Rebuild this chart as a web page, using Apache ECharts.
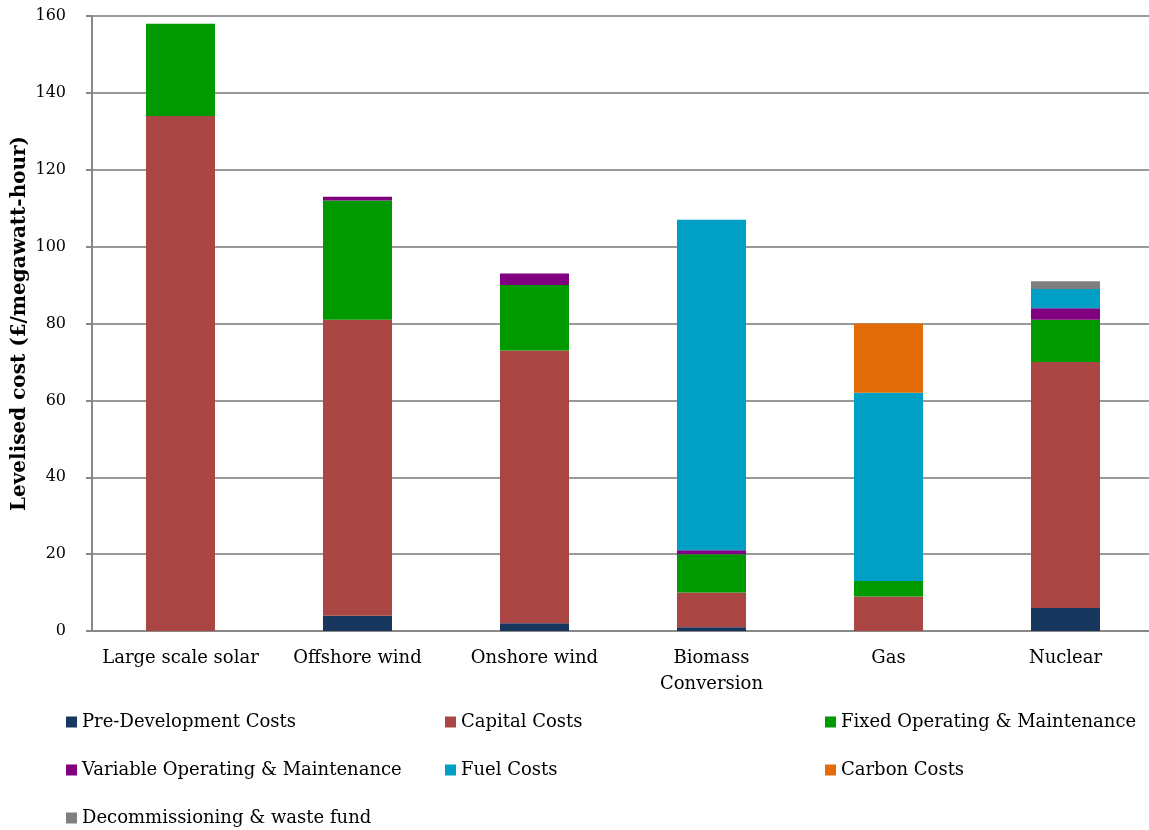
<!DOCTYPE html>
<html><head><meta charset="utf-8">
<script src="https://cdn.jsdelivr.net/npm/echarts@6/dist/echarts.min.js"></script>
<style>html,body{margin:0;padding:0;background:#fff}#c{width:1149px;height:830px}</style>
</head><body><div id="c"></div>
<script>
const categories = ['Large scale solar','Offshore wind','Onshore wind','Biomass\nConversion','Gas','Nuclear'];
const seriesNames = ['Pre-Development Costs','Capital Costs','Fixed Operating & Maintenance','Variable Operating & Maintenance','Fuel Costs','Carbon Costs','Decommissioning & waste fund'];
const preDevelopment = [0, 4, 2, 1, 0, 6];
const capital = [134, 77, 71, 9, 9, 64];
const fixedOM = [24, 31, 17, 10, 4, 11];
const variableOM = [0, 1, 3, 1, 0, 3];
const fuel = [0, 0, 0, 86, 49, 5];
const carbon = [0, 0, 0, 0, 18, 0];
const decommissioning = [0, 0, 0, 0, 0, 2];
const yTicks = {min: 0, max: 160, interval: 20};
const colors = ['#17375E','#AA4643','#009900','#800080','#00A0C6','#E36C09','#7F7F7F'];
const font = 'DejaVu Serif';
const dataList = [preDevelopment, capital, fixedOM, variableOM, fuel, carbon, decommissioning];
const legendPos = [[66,713],[445,713],[825,713],[66,761],[445,761],[825,761],[66,809]];
const chart = echarts.init(document.getElementById('c'));
chart.setOption({
  animation: false,
  color: colors,
  grid: {left: 92, right: -5, top: 16, bottom: 199, outerBoundsMode: 'none', containLabel: false},
  legend: seriesNames.map((n, i) => ({
    data: [n], left: legendPos[i][0], top: legendPos[i][1], icon: 'rect', itemWidth: 11, itemHeight: 11, itemGap: 4,
    textStyle: {fontFamily: font, fontSize: 18, color: '#000'}, padding: 0, selectedMode: false
  })),
  xAxis: {
    type: 'category', data: categories,
    axisLine: {lineStyle: {color: '#888', width: 2}},
    axisTick: {length: 6, lineStyle: {color: '#888', width: 2}},
    axisLabel: {fontFamily: font, fontSize: 18, color: '#000', margin: 14, lineHeight: 26, interval: 0}
  },
  yAxis: {
    type: 'value', min: yTicks.min, max: yTicks.max, interval: yTicks.interval,
    name: 'Levelised cost (£/megawatt-hour)', nameLocation: 'middle', nameGap: 62, nameMoveOverlap: false,
    nameTextStyle: {fontFamily: font, fontSize: 20, fontWeight: 'bold', color: '#000'},
    axisLine: {show: true, lineStyle: {color: '#888', width: 2}},
    axisTick: {show: true, length: 6, lineStyle: {color: '#888', width: 2}},
    axisLabel: {fontFamily: font, fontSize: 16, color: '#000', margin: 26},
    splitLine: {lineStyle: {color: '#999', width: 2}}
  },
  series: seriesNames.map((n, i) => ({
    name: n, type: 'bar', stack: 'total', barWidth: '39%', data: dataList[i],
    itemStyle: {color: colors[i]}
  }))
});
</script></body></html>
